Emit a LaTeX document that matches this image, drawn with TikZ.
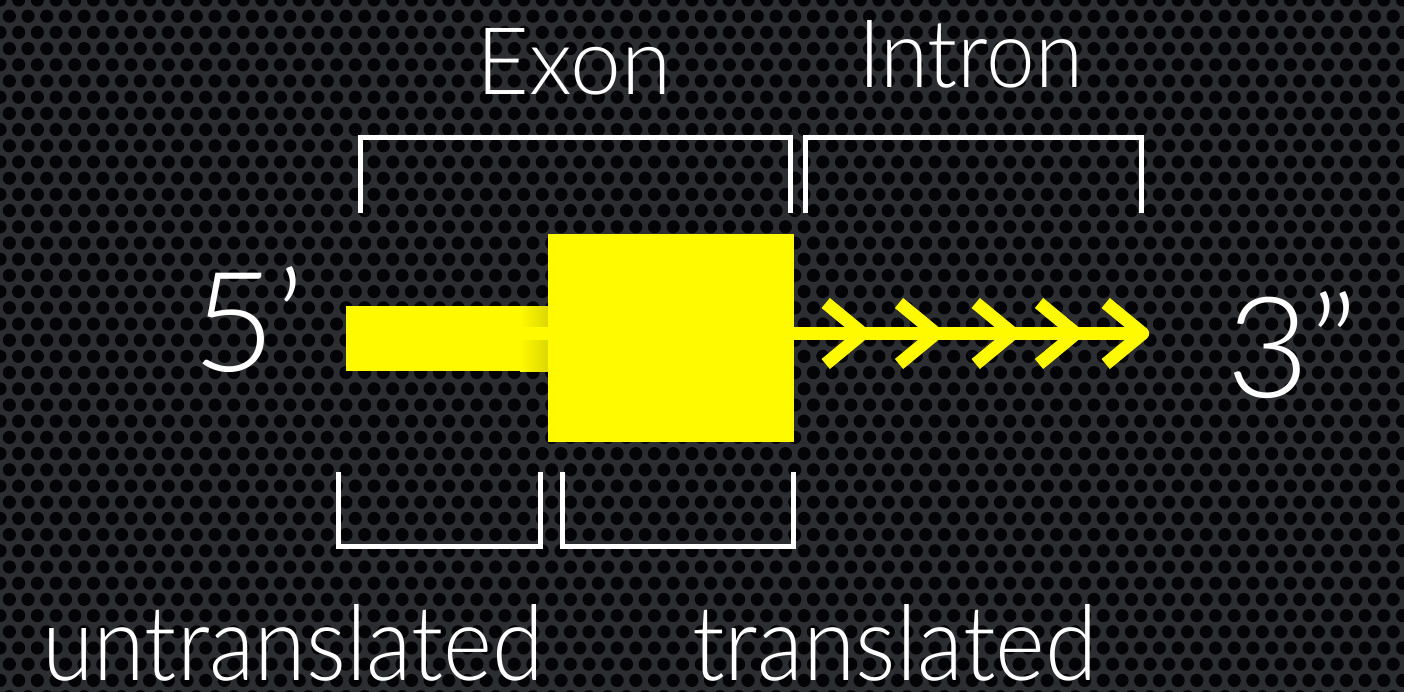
\documentclass[tikz,border=0pt]{standalone}
\usepackage{fontspec}
\usepackage{graphicx}
\newfontfamily\lightfont{Lato Light}
\definecolor{bg}{RGB}{44,45,49}
\definecolor{hole}{RGB}{4,4,6}
\definecolor{gene}{RGB}{255,250,0}
\begin{document}
\begin{tikzpicture}[x=1pt,y=-1pt,
  bracket/.style={draw=white, line width=5pt, line join=miter},
  lbl/.style={text=white, inner sep=0pt, anchor=base west, font=\lightfont},
  chev/.style={draw=gene, line width=13pt, line join=round, line cap=butt}]
\fill[bg] (0,0) rectangle (1404,692);
\useasboundingbox (0,0) rectangle (1404,692);
% perforated background texture
\begin{scope}
\clip (0,0) rectangle (1404,692);
\foreach \j in {0,...,43} {
  \pgfmathsetmacro\off{mod(\j,2)*9.35}
  \foreach \i in {0,...,75} {
    \fill[hole] (\i*18.7+\off, \j*16.2) circle (6.6pt);
  }
}
\end{scope}
% yellow gene
\fill[gene] (346,306.5) rectangle (549,371);
\shade[left color=gene, right color=gene!86!black] (520,306.5) rectangle (549,371);
\fill[gene] (520,327) rectangle (549,340);
\fill[gene] (548,234) rectangle (794,442);
\draw[gene, line width=13pt] (794,333.5) -- (1142,333.5);
\foreach \t in {871.7,945,1021.7,1085,1151.7} {
  \draw[chev] (\t-46,303) -- (\t-9,333.5) -- (\t-46,364);
}
% brackets
\draw[bracket] (360,212.7) -- (360,137.5) -- (790,137.5) -- (790,212.7);
\draw[bracket] (805.5,212.7) -- (805.5,137.5) -- (1141,137.5) -- (1141,212.7);
\draw[bracket] (338,472) -- (338,546) -- (540,546) -- (540,472);
\draw[bracket] (562,472) -- (562,546) -- (793.5,546) -- (793.5,472);
% labels
\node[lbl] (exon) at (476,95) {\resizebox{195pt}{66pt}{Exon}};
\node[lbl] (intron) at (858,88) {\resizebox{225pt}{67pt}{Intron}};
\node[lbl] (five) at (192,371) {\resizebox{113pt}{105pt}{5’}};
\node[lbl] (three) at (1226,397) {\resizebox{132pt}{106pt}{3”}};
\node[lbl] (untr) at (42,680) {\resizebox{502pt}{76pt}{untranslated}};
\node[lbl] (transl) at (692,680) {\resizebox{405pt}{76pt}{translated}};
\end{tikzpicture}
\end{document}
